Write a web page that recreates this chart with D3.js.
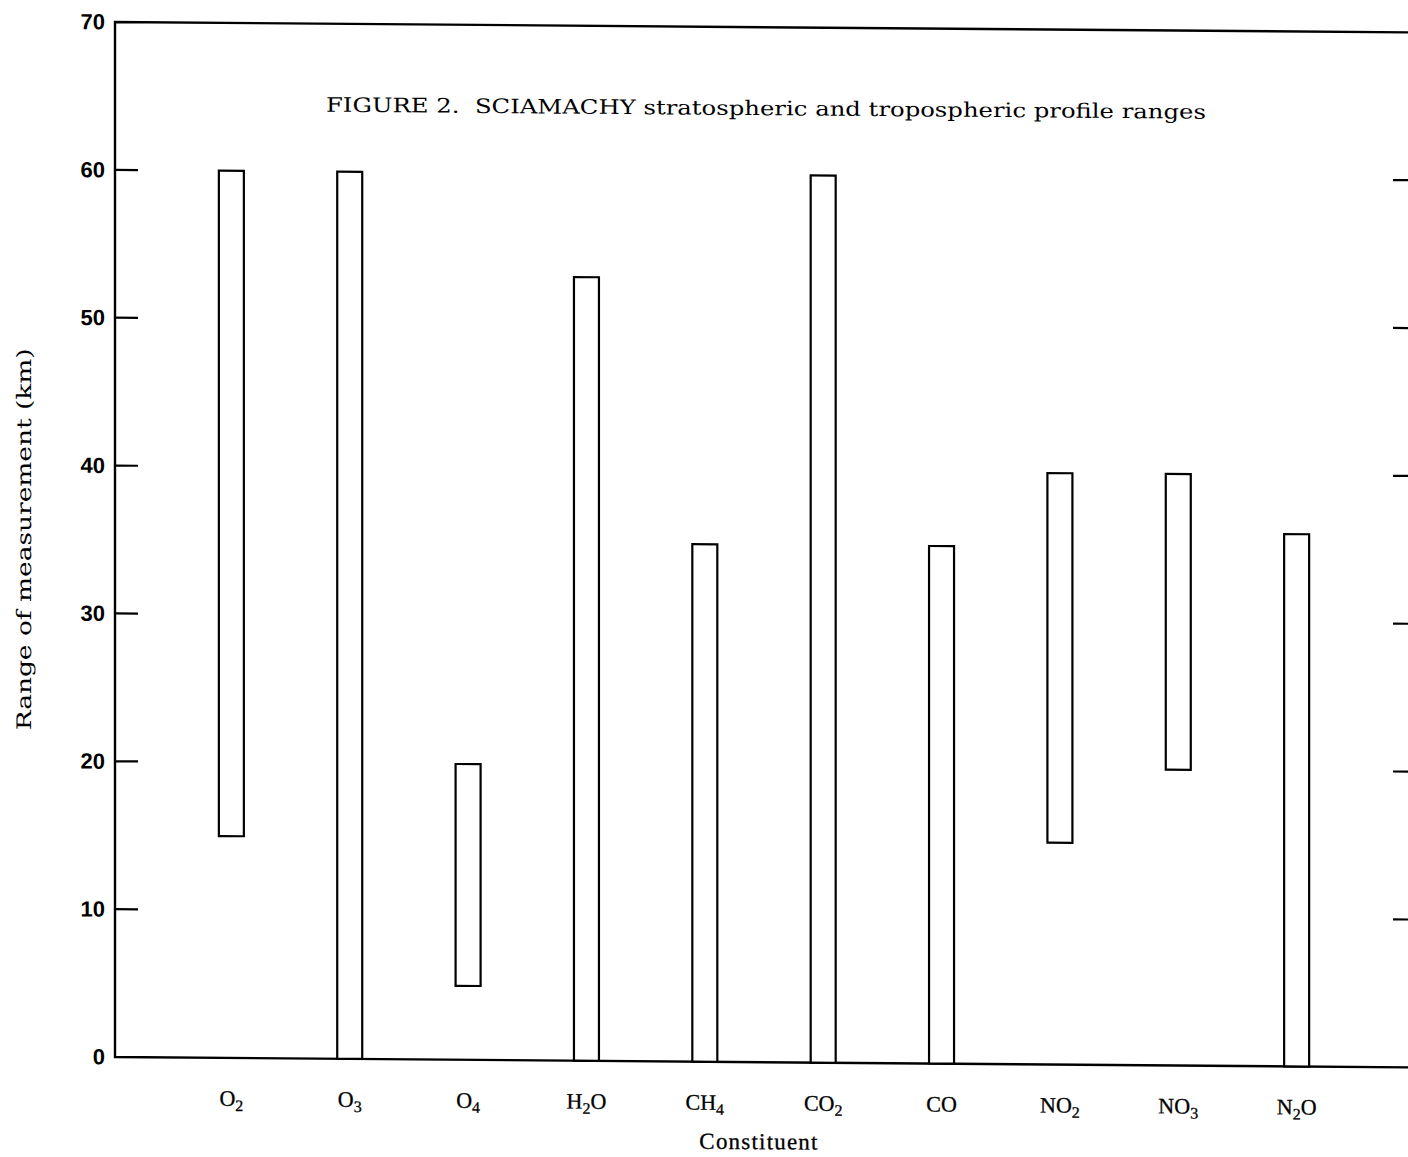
<!DOCTYPE html>
<html>
<head>
<meta charset="utf-8">
<script src="https://cdn.jsdelivr.net/npm/d3@7"></script>
<style>
  html, body { margin: 0; padding: 0; background: #fff; }
  svg { display: block; }
</style>
</head>
<body>
<svg id="chart" width="1408" height="1157"></svg>
<script>
// ---- data ----
const categories = ["O2", "O3", "O4", "H2O", "CH4", "CO2", "CO", "NO2", "NO3", "N2O"];
const rangeLow  = [15, 0, 5, 0, 0, 0, 0, 15, 20, 0];
const rangeHigh = [60, 60, 20, 53, 35, 60, 35, 40, 40, 36];
const yTicks = [0, 10, 20, 30, 40, 50, 60, 70];
const titleText = "FIGURE 2.  SCIAMACHY stratospheric and tropospheric profile ranges";
const yTitle = "Range of measurement (km)";
const xTitle = "Constituent";

(function () {
// ---- layout ----
const plotLeft = 115, plotRight = 1415, plotTop = 22, plotBottom = 1057;
const skewK = 0.008;

const svg = d3.select("#chart");
const g = svg.append("g")
  .attr("transform", `translate(0,${-skewK * plotLeft}) skewY(${Math.atan(skewK) * 180 / Math.PI})`);

const x = d3.scalePoint().domain(categories).range([113, plotRight]).padding(1);
const y = d3.scaleLinear().domain([0, 70]).range([plotBottom, plotTop]);

// frame: left axis, top, bottom
g.append("path")
  .attr("d", `M${plotRight},${y(70)}H${plotLeft}V${y(0)}H${plotRight}`)
  .attr("fill", "none").attr("stroke", "#000").attr("stroke-width", 2.4);

// left axis labels
const yAxisL = d3.axisLeft(y).tickValues(yTicks).tickSize(0).tickPadding(8).tickFormat(d3.format("d"));
const gl = g.append("g").attr("transform", `translate(${plotLeft},0)`).call(yAxisL);
gl.select(".domain").remove();
gl.selectAll("text")
  .attr("font-family", "'Liberation Sans', Arial, sans-serif")
  .attr("font-weight", "bold").attr("font-size", 22).attr("fill", "#000")
  .attr("dx", -2);

const innerTicks = yTicks.filter(d => d > 0 && d < 70);
g.append("g").selectAll("line")
  .data(innerTicks)
  .join("line")
  .attr("x1", plotLeft).attr("x2", plotLeft + 23)
  .attr("y1", d => y(d)).attr("y2", d => y(d))
  .attr("stroke", "#000").attr("stroke-width", 2.2);

g.append("g").selectAll("line")
  .data(innerTicks)
  .join("line")
  .attr("x1", plotRight - 22).attr("x2", plotRight)
  .attr("y1", d => y(d)).attr("y2", d => y(d))
  .attr("stroke", "#000").attr("stroke-width", 2.2);

// bars
const barW = 25;
g.append("g").selectAll("rect")
  .data(categories)
  .join("rect")
  .attr("x", d => x(d) - barW / 2)
  .attr("width", barW)
  .attr("y", (d, i) => y(rangeHigh[i]))
  .attr("height", (d, i) => y(rangeLow[i]) - y(rangeHigh[i]))
  .attr("fill", "#fff").attr("stroke", "#000").attr("stroke-width", 2.2);

// x labels with subscripts
const xl = g.append("g").selectAll("text")
  .data(categories)
  .join("text")
  .attr("x", d => x(d))
  .attr("y", 1105)
  .attr("text-anchor", "middle")
  .attr("font-family", "'Liberation Serif', 'Times New Roman', serif")
  .attr("font-size", 22).attr("fill", "#000")
  .attr("stroke", "#000").attr("stroke-width", 0.3);
xl.each(function (d) {
  const t = d3.select(this);
  const parts = d.match(/[A-Za-z]+|\d+/g);
  let sub = false;
  parts.forEach(p => {
    if (/^\d+$/.test(p)) {
      t.append("tspan").attr("font-size", 16).attr("dy", 5).text(p);
      sub = true;
    } else {
      const ts = t.append("tspan").text(p);
      if (sub) { ts.attr("dy", -5); sub = false; }
    }
  });
});

// axis titles
g.append("text")
  .attr("x", 759).attr("y", 1144)
  .attr("text-anchor", "middle")
  .attr("font-family", "'Liberation Serif', 'Times New Roman', serif")
  .attr("font-size", 23).attr("letter-spacing", 1.2).attr("fill", "#000")
  .attr("stroke", "#000").attr("stroke-width", 0.3)
  .text(xTitle);

g.append("text")
  .attr("transform", "translate(31,540) rotate(-90)")
  .attr("text-anchor", "middle")
  .attr("font-family", "'DejaVu Serif', serif")
  .attr("font-size", 20).attr("fill", "#000")
  .attr("textLength", 382).attr("lengthAdjust", "spacingAndGlyphs")
  .text(yTitle);

// title
g.append("text")
  .attr("x", 326).attr("y", 110)
  .attr("font-family", "'DejaVu Serif', serif")
  .attr("font-size", 20).attr("fill", "#000")
  .attr("textLength", 880).attr("lengthAdjust", "spacingAndGlyphs")
  .style("white-space", "pre")
  .text(titleText);
})();
</script>
</body>
</html>
